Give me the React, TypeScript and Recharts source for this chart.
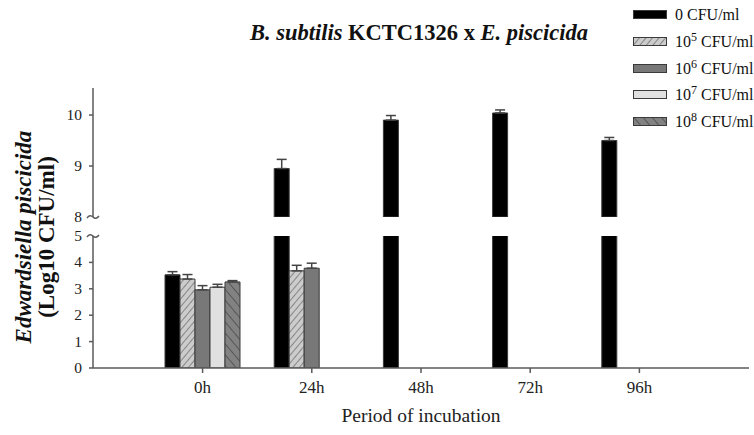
import React from 'react';
import { BarChart, Bar, XAxis, YAxis, ErrorBar } from 'recharts';

const periods = ['0h', '24h', '48h', '72h', '96h'];
const doseLabels = ['0', '10|5', '10|6', '10|7', '10|8'];

// Log10 CFU/ml of E. piscicida, mean and (upper) SD
const dose0 = [3.53, 8.95, 9.9, 10.04, 9.5];
const dose0Err = [0.12, 0.18, 0.09, 0.06, 0.06];
const dose5 = [3.37, 3.68, null, null, null];
const dose5Err = [0.17, 0.21, null, null, null];
const dose6 = [2.96, 3.78, null, null, null];
const dose6Err = [0.16, 0.19, null, null, null];
const dose7 = [3.06, null, null, null, null];
const dose7Err = [0.11, null, null, null, null];
const dose8 = [3.26, null, null, null, null];
const dose8Err = [0.05, null, null, null, null];

const lowerTicks = [0, 1, 2, 3, 4, 5];
const upperTicks = [8, 9, 10];
const lowerDomain = [0, 5];
const upperDomain = [8, 10.53];

const series = [
  { key: 's0', values: dose0, errs: dose0Err, fill: '#000000' },
  { key: 's5', values: dose5, errs: dose5Err, fill: 'url(#hatchUp)' },
  { key: 's6', values: dose6, errs: dose6Err, fill: '#787878' },
  { key: 's7', values: dose7, errs: dose7Err, fill: '#e0e0e0' },
  { key: 's8', values: dose8, errs: dose8Err, fill: 'url(#hatchDown)' },
];

const font = '"Liberation Serif", "Times New Roman", serif';
const axisColor = '#5a5a5a';

// lower segment keeps everything (tall bars get clipped at 5), upper keeps only values >= 8
const lowerData = periods.map((p, i) => {
  const row: any = { period: p };
  series.forEach((s) => {
    const v = s.values[i];
    row[s.key] = v;
    row[s.key + 'e'] = v != null && v <= lowerDomain[1] && s.errs[i] != null ? [0, s.errs[i]] : null;
  });
  return row;
});

const upperData = periods.map((p, i) => {
  const row: any = { period: p };
  series.forEach((s) => {
    const v = s.values[i];
    const keep = v != null && v >= upperDomain[0];
    row[s.key] = keep ? v : null;
    row[s.key + 'e'] = keep && s.errs[i] != null ? [0, s.errs[i]] : null;
  });
  return row;
});

const Patterns = ({ prefix = '' }: { prefix?: string }) => (
  <defs>
    <pattern id={prefix + 'hatchUp'} width="5" height="5" patternUnits="userSpaceOnUse" patternTransform="rotate(40)">
      <rect width="5" height="5" fill="#cccccc" />
      <line x1="0" y1="0" x2="0" y2="5" stroke="#404040" strokeWidth="1" />
    </pattern>
    <pattern id={prefix + 'hatchDown'} width="7" height="7" patternUnits="userSpaceOnUse" patternTransform="rotate(-40)">
      <rect width="7" height="7" fill="#828282" />
      <line x1="0" y1="0" x2="0" y2="7" stroke="#2a2a2a" strokeWidth="1" />
    </pattern>
  </defs>
);

const YTick = (props: any) => {
  const { x, y, payload, brk } = props;
  const ax = x + 11;
  const isBreak = payload.value === brk;
  return (
    <g>
      <text x={x} y={y} dy={5} textAnchor="end" fontFamily={font} fontSize={15.5} fill="#222">
        {payload.value}
      </text>
      {isBreak ? (
        <path
          d={`M ${ax - 6} ${y + 1} q 3 -4 6 -1 t 6 -1`}
          fill="none"
          stroke={axisColor}
          strokeWidth={1.5}
        />
      ) : (
        <line x1={ax - 4} y1={y} x2={ax} y2={y} stroke={axisColor} strokeWidth={1.5} />
      )}
    </g>
  );
};

const Bars = ({ prefix }: { prefix: string }) =>
  series.map((s) => (
    <Bar
      key={s.key}
      dataKey={s.key}
      fill={s.fill.startsWith('url') ? s.fill.replace('#', '#' + prefix) : s.fill}
      stroke="#3a3a3a"
      strokeWidth={1}
      barSize={15}
      isAnimationActive={false}
    >
      <ErrorBar dataKey={(d: any) => d[s.key + 'e']} width={5} stroke="#444" strokeWidth={1.5} />
    </Bar>
  ));

const renderSup = (label: string) => {
  const [base, sup] = label.split('|');
  return (
    <>
      {base}
      {sup && <sup style={{ fontSize: 12, verticalAlign: 'super', lineHeight: 0 }}>{sup}</sup>}
      {' CFU/ml'}
    </>
  );
};

export default function App() {
  const xAxisProps = {
    dataKey: 'period',
    padding: { left: 55, right: 55 },
  };
  return (
    <div style={{ position: 'absolute', left: 0, top: 0, width: 754, height: 435, background: '#fff', fontFamily: font }}>
      {/* lower segment 0-5 with the category axis */}
      <div style={{ position: 'absolute', left: 0, top: 0 }}>
        <BarChart width={754} height={435} data={lowerData} barGap={0} margin={{ top: 236, right: 5, bottom: 0, left: 33 }}>
          <Patterns prefix="lo-" />
          <XAxis
            {...xAxisProps}
            height={67}
            stroke={axisColor}
            tickSize={5}
            tickMargin={8}
            tick={{ fontFamily: font, fontSize: 17, fill: '#222' }}
            axisLine={{ stroke: axisColor, strokeWidth: 1.5 }}
            tickLine={{ stroke: axisColor, strokeWidth: 1.5 }}
            label={{ value: 'Period of incubation', position: 'insideBottom', offset: 13, fontFamily: font, fontSize: 19.5, fill: '#222' }}
          />
          <YAxis
            width={60}
            domain={lowerDomain}
            ticks={lowerTicks}
            allowDataOverflow
            tickSize={4}
            tickMargin={7}
            tickLine={false}
            axisLine={{ stroke: axisColor, strokeWidth: 1.5 }}
            tick={(p: any) => <YTick {...p} brk={5} />}
          />
          {Bars({ prefix: 'lo-' })}
        </BarChart>
      </div>
      {/* upper segment 8-10.5 */}
      <div style={{ position: 'absolute', left: 0, top: 0 }}>
        <BarChart width={754} height={435} data={upperData} barGap={0} margin={{ top: 88, right: 5, bottom: 218, left: 33 }}>
          <Patterns prefix="up-" />
          <XAxis {...xAxisProps} hide />
          <YAxis
            width={60}
            domain={upperDomain}
            ticks={upperTicks}
            allowDataOverflow
            tickSize={4}
            tickMargin={7}
            tickLine={false}
            axisLine={{ stroke: axisColor, strokeWidth: 1.5 }}
            tick={(p: any) => <YTick {...p} brk={8} />}
          />
          {Bars({ prefix: 'up-' })}
        </BarChart>
      </div>
      {/* title and y label */}
      <svg width={754} height={435} style={{ position: 'absolute', left: 0, top: 0, pointerEvents: 'none' }}>
        <text x={419} y={40} textAnchor="middle" fontFamily={font} fontSize={22.5} fontWeight="bold" fill="#111">
          <tspan fontStyle="italic">B. subtilis</tspan>
          <tspan> KCTC1326 x </tspan>
          <tspan fontStyle="italic">E. piscicida</tspan>
        </text>
        <text transform="translate(31, 237) rotate(-90)" textAnchor="middle" fontFamily={font} fontSize={23} fontWeight="bold" fontStyle="italic" fill="#111">
          Edwardsiella piscicida
        </text>
        <text transform="translate(54, 237) rotate(-90)" textAnchor="middle" fontFamily={font} fontSize={23} fontWeight="bold" fill="#111">
          (Log10 CFU/ml)
        </text>
      </svg>
      {/* legend */}
      <div style={{ position: 'absolute', left: 633, top: 0 }}>
        {series.map((s, i) => (
          <div key={s.key} style={{ position: 'absolute', top: 5 + i * 26.8, left: 0, height: 20, display: 'flex', alignItems: 'center', whiteSpace: 'nowrap' }}>
            <svg width={35} height={10} style={{ display: 'block' }}>
              <Patterns prefix={'lg' + i + '-'} />
              <rect
                x={0.5}
                y={0.5}
                width={33}
                height={8}
                fill={s.fill.startsWith('url') ? s.fill.replace('#', '#lg' + i + '-') : s.fill}
                stroke="#3a3a3a"
                strokeWidth={1}
              />
            </svg>
            <span style={{ marginLeft: 7, fontSize: 16, color: '#111' }}>{renderSup(doseLabels[i])}</span>
          </div>
        ))}
      </div>
    </div>
  );
}
